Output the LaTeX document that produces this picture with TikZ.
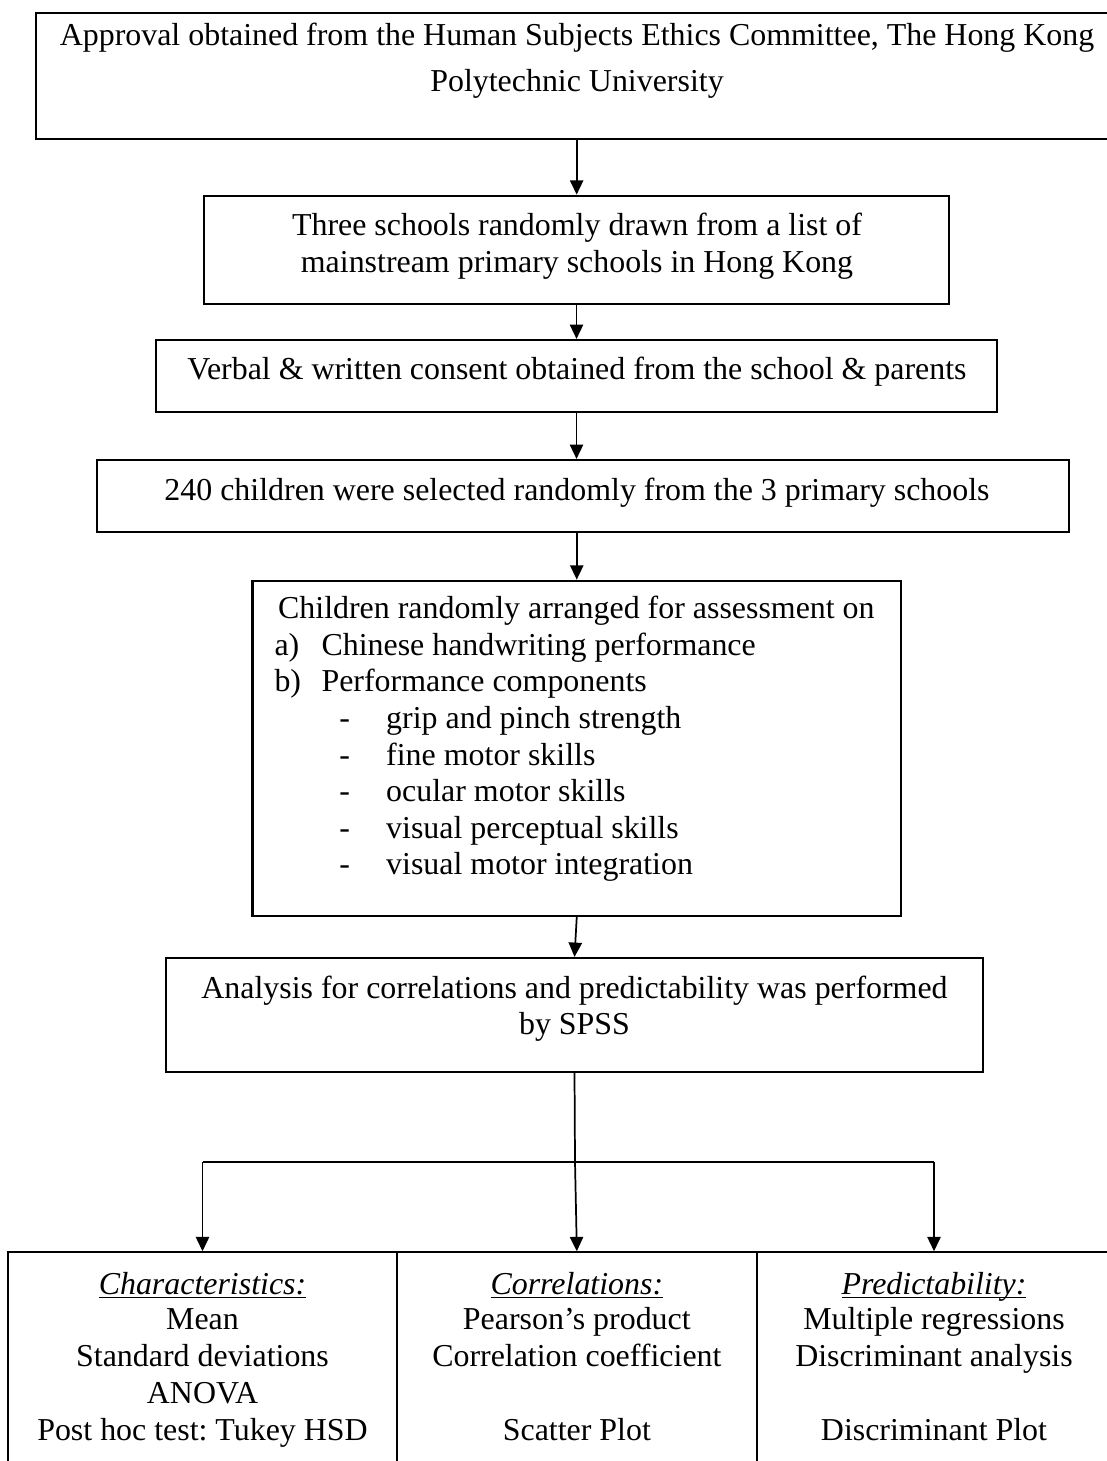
\documentclass[tikz,border=0pt]{standalone}
\usepackage{fontspec}
\setmainfont{Liberation Serif}
\usetikzlibrary{arrows.meta,fit}
\newcommand\ulhead[1]{\underline{\smash{\textit{#1}}}}
\begin{document}
\frenchspacing
\begin{tikzpicture}[x=0.376pt,y=-0.376pt,
  box/.style={draw, line width=0.8pt, inner sep=0pt, rectangle},
  txt/.style={inner sep=0pt, font=\fontsize{12pt}{13.8pt}\selectfont},
  ctxt/.style={txt, anchor=base},
  ltxt/.style={txt, anchor=base west},
  link/.style={line width=0.65pt},
  arr/.style={link, -{Triangle[length=5.4pt,width=5pt]}},
]
\useasboundingbox (0,0) rectangle (1107,1461);

% boxes of the flow
\node[box, fit={(36,13.3) (1112,139)}] (b1) {};
\node[box, fit={(204.3,195.7) (949,304)}] (b2) {};
\node[box, fit={(156,340) (997,411.7)}] (b3) {};
\node[box, fit={(97,460) (1069,531.7)}] (b4) {};
\node[box, fit={(252.5,580.7) (901,916)}] (b5) {};
\node[box, fit={(166,958) (983,1072)}] (b6) {};

% three result cells
\node[box, fit={(8.3,1252.3) (396.7,1470)}] (c1) {};
\node[box, fit={(396.7,1252.3) (757,1470)}] (c2) {};
\node[box, fit={(757,1252.3) (1111,1470)}] (c3) {};

% texts
\node[ctxt] (t1a) at (577,46) {Approval obtained from the Human Subjects Ethics Committee, The Hong Kong};
\node[ctxt] (t1b) at (577,92) {Polytechnic University};
\node[ctxt] (t2a) at (577,236) {Three schools randomly drawn from a list of};
\node[ctxt] (t2b) at (577,272.7) {mainstream primary schools in Hong Kong};
\node[ctxt] (t3) at (577,380) {Verbal \& written consent obtained from the school \& parents};
\node[ctxt] (t4) at (577,500.7) {240 children were selected randomly from the 3 primary schools};

\node[ltxt] (t5) at (277.6,618.3) {Children randomly arranged for assessment on};
\node[ltxt] (t5a) at (274,655) {a)};
\node[ltxt] (t5at) at (321,655) {Chinese handwriting performance};
\node[ltxt] (t5b) at (274,691.7) {b)};
\node[ltxt] (t5bt) at (321,691.7) {Performance components};
\foreach \yy/\item [count=\k] in {728/grip and pinch strength,
                                  765/fine motor skills,
                                  801.7/ocular motor skills,
                                  838/visual perceptual skills,
                                  874.7/visual motor integration}{
  \node[ltxt] (dash\k) at (338.8,\yy) {-};
  \node[ltxt] (item\k) at (385.7,\yy) {\item};
}

\node[ctxt] (t6a) at (574.5,998) {Analysis for correlations and predictability was performed};
\node[ctxt] (t6b) at (574.5,1034.5) {by SPSS};

\node[ctxt] (h1) at (202.5,1294) {\ulhead{Characteristics:}};
\node[ctxt] (h1a) at (202.5,1329.3) {Mean};
\node[ctxt] (h1b) at (202.5,1366) {Standard deviations};
\node[ctxt] (h1c) at (202.5,1403) {ANOVA};
\node[ctxt] (h1d) at (202.5,1440.7) {Post hoc test: Tukey HSD};

\node[ctxt] (h2) at (576.85,1294) {\ulhead{Correlations:}};
\node[ctxt] (h2a) at (576.85,1329.3) {Pearson’s product};
\node[ctxt] (h2b) at (576.85,1366) {Correlation coefficient};
\node[ctxt] (h2d) at (576.85,1440.7) {Scatter Plot};

\node[ctxt] (h3) at (934,1294) {\ulhead{Predictability:}};
\node[ctxt] (h3a) at (934,1329.3) {Multiple regressions};
\node[ctxt] (h3b) at (934,1366) {Discriminant analysis};
\node[ctxt] (h3d) at (934,1440.7) {Discriminant Plot};

% connectors
\draw[arr] (b2.north |- b1.south) -- (b2.north);
\draw[arr] (b3.north |- b2.south) -- (b3.north);
\draw[arr] (b3.south) -- (b3.south |- b4.north);
\draw[arr] (b5.north |- b4.south) -- (b5.north);
\draw[arr] (b5.south) -- (b6.north);

\coordinate (split) at (575,1162);
\coordinate (splitL) at (202.5,1162);
\coordinate (splitR) at (934,1162);
\draw[link] (b6.south) -- (split);
\draw[link] (splitL) -- (splitR);
\draw[arr] (splitL) -- (splitL |- c1.north);
\draw[arr] (split) -- (c2.north);
\draw[arr] (splitR) -- (splitR |- c3.north);
\end{tikzpicture}
\end{document}
